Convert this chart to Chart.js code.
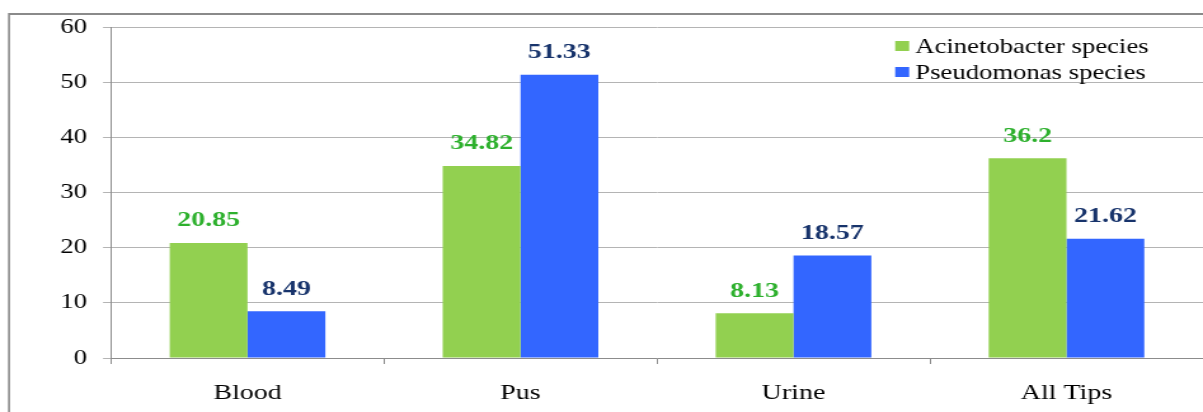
<!DOCTYPE html>
<html>
<head>
<meta charset="utf-8">
<script src="https://cdn.jsdelivr.net/npm/chart.js@4.4.1/dist/chart.umd.min.js"></script>
<style>
  html, body { margin: 0; padding: 0; background: #fff; overflow: hidden; }
  /* the chart is drawn on a narrower canvas and widened horizontally */
  #wrap {
    position: absolute; left: 0; top: 0;
    width: 947px; height: 412px;
    transform: scaleX(1.2703); transform-origin: 0 0;
  }
</style>
</head>
<body>
<div id="wrap"><canvas id="c"></canvas></div>
<script>
// Isolation percentage by specimen type
const categories = ['Blood', 'Pus', 'Urine', 'All Tips'];
const acinetobacter = [20.85, 34.82, 8.13, 36.2];
const pseudomonas = [8.49, 51.33, 18.57, 21.62];
const seriesNames = ['Acinetobacter species', 'Pseudomonas species'];
const yTicks = [0, 10, 20, 30, 40, 50, 60];

const SERIF = "'Liberation Serif', 'Times New Roman', serif";
const barColors = ['#92D050', '#3366FF'];
const valueColors = ['#2DB02D', '#17336B'];

// outer frame (top and left edges visible)
const framePlugin = {
  id: 'frame',
  beforeDraw(chart) {
    const ctx = chart.ctx;
    ctx.save();
    ctx.strokeStyle = '#8a8a8a';
    ctx.lineWidth = 2;
    ctx.beginPath();
    ctx.moveTo(7.1, 14);
    ctx.lineTo(chart.width + 2, 14);
    ctx.stroke();
    ctx.lineWidth = 1.6;
    ctx.beginPath();
    ctx.moveTo(7.1, 13);
    ctx.lineTo(7.1, chart.height + 2);
    ctx.stroke();
    ctx.restore();
  }
};

// value labels above each bar
const valueLabelPlugin = {
  id: 'valueLabels',
  afterDatasetsDraw(chart) {
    const ctx = chart.ctx;
    ctx.save();
    ctx.font = 'bold 22px ' + SERIF;
    ctx.textAlign = 'center';
    ctx.textBaseline = 'alphabetic';
    chart.data.datasets.forEach((ds, i) => {
      const meta = chart.getDatasetMeta(i);
      ctx.fillStyle = valueColors[i];
      meta.data.forEach((bar, j) => {
        ctx.fillText(String(ds.data[j]), bar.x, bar.y - 16.5);
      });
    });
    ctx.restore();
  }
};

// legend in the upper right of the plot
const legendPlugin = {
  id: 'cornerLegend',
  afterDraw(chart) {
    const ctx = chart.ctx;
    ctx.save();
    ctx.font = '21px ' + SERIF;
    ctx.textAlign = 'left';
    ctx.textBaseline = 'alphabetic';
    const rows = [{ box: 41, base: 53 }, { box: 67, base: 79 }];
    chart.data.datasets.forEach((ds, i) => {
      ctx.fillStyle = ds.backgroundColor;
      ctx.fillRect(704.7, rows[i].box, 11, 10);
      ctx.fillStyle = '#000';
      ctx.fillText(ds.label, 720.5, rows[i].base);
    });
    ctx.restore();
  }
};

new Chart(document.getElementById('c'), {
  type: 'bar',
  data: {
    labels: categories,
    datasets: [
      { label: seriesNames[0], data: acinetobacter, backgroundColor: barColors[0],
        categoryPercentage: 0.57, barPercentage: 1.0 },
      { label: seriesNames[1], data: pseudomonas, backgroundColor: barColors[1],
        categoryPercentage: 0.57, barPercentage: 1.0 }
    ]
  },
  options: {
    responsive: true,
    maintainAspectRatio: false,
    animation: false,
    layout: { padding: { top: 27, right: 0, bottom: 0, left: 0 } },
    plugins: {
      legend: { display: false },
      tooltip: { enabled: false }
    },
    scales: {
      x: {
        grid: { display: true, drawOnChartArea: false, offset: true, tickLength: 6, color: '#8c8c8c' },
        border: { color: '#8c8c8c' },
        ticks: { color: '#000', font: { family: SERIF, size: 22 }, padding: 16, maxRotation: 0 },
        afterFit(scale) { scale.height = 54; }
      },
      y: {
        min: yTicks[0],
        max: yTicks[yTicks.length - 1],
        afterBuildTicks(scale) { scale.ticks = yTicks.map(v => ({ value: v })); },
        grid: { color: '#b4b4b4', tickLength: 6.3 },
        border: { color: '#8c8c8c' },
        ticks: { color: '#000', font: { family: SERIF, size: 21 }, padding: 12.6 },
        afterFit(scale) { scale.width = 87.4; }
      }
    }
  },
  plugins: [framePlugin, valueLabelPlugin, legendPlugin]
});
</script>
</body>
</html>
